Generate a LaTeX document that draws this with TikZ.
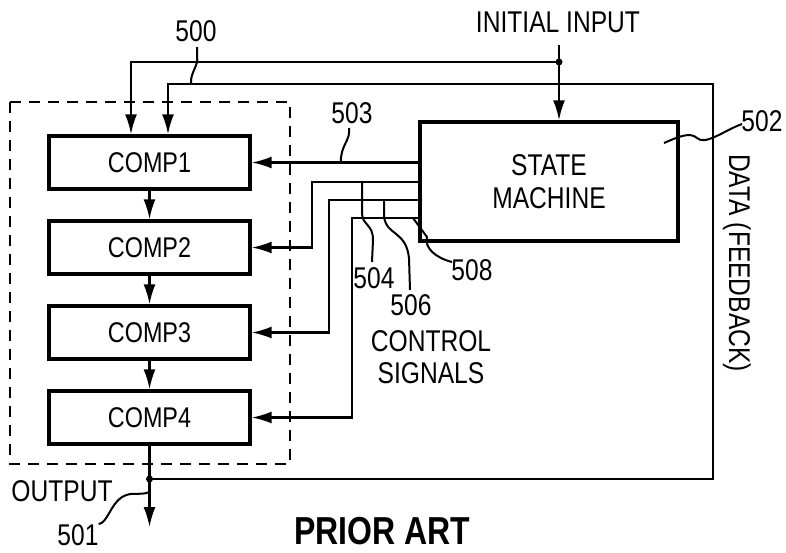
\documentclass[tikz,border=0pt]{standalone}
\usepackage{fontspec}
\setmainfont{Liberation Sans}[FakeStretch=0.82]
\usetikzlibrary{arrows.meta}
\begin{document}
\begin{tikzpicture}[x=1pt,y=-1pt,
  comp/.style={draw,line width=3.4pt,minimum width=201pt,minimum height=53pt,inner sep=0pt,font=\fontsize{28.5}{30}\selectfont},
  smbox/.style={draw,line width=3.4pt,minimum width=258pt,minimum height=119pt,inner sep=0pt,align=center,font=\fontsize{30}{33}\selectfont},
  wire/.style={line width=2.2pt},
  arr/.style={wire,-{Latex[length=20pt,width=12pt]}},
  lead/.style={line width=2pt},
  lab/.style={inner sep=0pt,font=\fontsize{30}{32}\selectfont},
  dotc/.style={circle,fill,inner sep=0pt,minimum size=7pt}
]
\useasboundingbox (0,0) rectangle (786,552);
% dashed enclosure
\draw[line width=2.2pt,dash pattern=on 11pt off 8pt] (10,102) rectangle (290,464);
% components
\node[comp] (comp1) at (149.5,162.5) {COMP1};
\node[comp] (comp2) at (149.5,247.5) {COMP2};
\node[comp] (comp3) at (149.5,332.5) {COMP3};
\node[comp] (comp4) at (149.5,417.5) {COMP4};
\node[smbox] (sm) at (549,181.5) {STATE\\MACHINE};
% chain
\draw[arr] (comp1) -- (comp2);
\draw[arr] (comp2) -- (comp3);
\draw[arr] (comp3) -- (comp4);
% initial input
\node[lab] (inlab) at (558,22) {INITIAL INPUT};
\coordinate (inTop) at (559,45);
\coordinate (dotIn) at (559,62);
\draw[wire] (inTop) -- (dotIn);
\draw[arr] (dotIn) -- (dotIn |- sm.north);
\draw[arr] (dotIn) -| ([xshift=-18.5pt]comp1.north);
\node[dotc] at (dotIn) {};
% output and feedback
\coordinate (dotOut) at (comp4.south |- 0,479);
\coordinate (outEnd) at (comp4.south |- 0,527);
\draw[arr] (comp4.south) -- (outEnd);
\draw[arr] (dotOut) -| (713,84) -| ([xshift=18.5pt]comp1.north);
\node[dotc] at (dotOut) {};
\node[lab] (outlab) at (62,491) {OUTPUT};
\node[lab] (l501) at (78,535) {501};
\draw[lead] (l501.north east) .. controls (108,522) and (110,505) .. (122,497) .. controls (132,491) and (140,496) .. (dotOut |- 0,492);
% control signals
\draw[arr] (comp1.east -| sm.west) -- (comp1.east);
\draw[arr] (sm.west |- 0,182) -- (312,182) |- (comp2.east);
\draw[arr] (sm.west |- 0,200) -- (329,200) |- (comp3.east);
\draw[arr] (sm.west |- 0,218) -- (352,218) |- (comp4.east);
% labels and leaders
\node[lab] (l500) at (196,31) {500};
\draw[lead] (197,47) -- (197,56) .. controls (199,66) and (190,72) .. (191,84);
\node[lab] (l503) at (352,113) {503};
\draw[lead] (349,128) .. controls (351,140) and (340,146) .. (341,162);
\node[lab] (l502) at (762,121) {502};
\draw[lead] (664,143) .. controls (680,136) and (690,132) .. (697,138) .. controls (705,146) and (725,130) .. (742,124);
\node[lab] (l504) at (374,278) {504};
\draw[lead] (362,182) -- (362,214) .. controls (363,226) and (373,224) .. (373,240) -- (372,262);
\node[lab] (l506) at (411,305) {506};
\draw[lead] (384,200) -- (384,216) .. controls (386,236) and (406,230) .. (409,258) -- (410,290);
\node[lab] (l508) at (472,270) {508};
\draw[lead] (413,218) -- (427,237) .. controls (424,248) and (436,258) .. (452,262);
\node[lab,align=center] (ctrl) at (431,357) {CONTROL\\SIGNALS};
\node[lab,rotate=-90] (data) at (737,263) {DATA (FEEDBACK)};
\node[inner sep=0pt,font=\fontsize{39}{40}\selectfont\bfseries] (prior) at (382,531) {PRIOR ART};
\end{tikzpicture}
\end{document}
